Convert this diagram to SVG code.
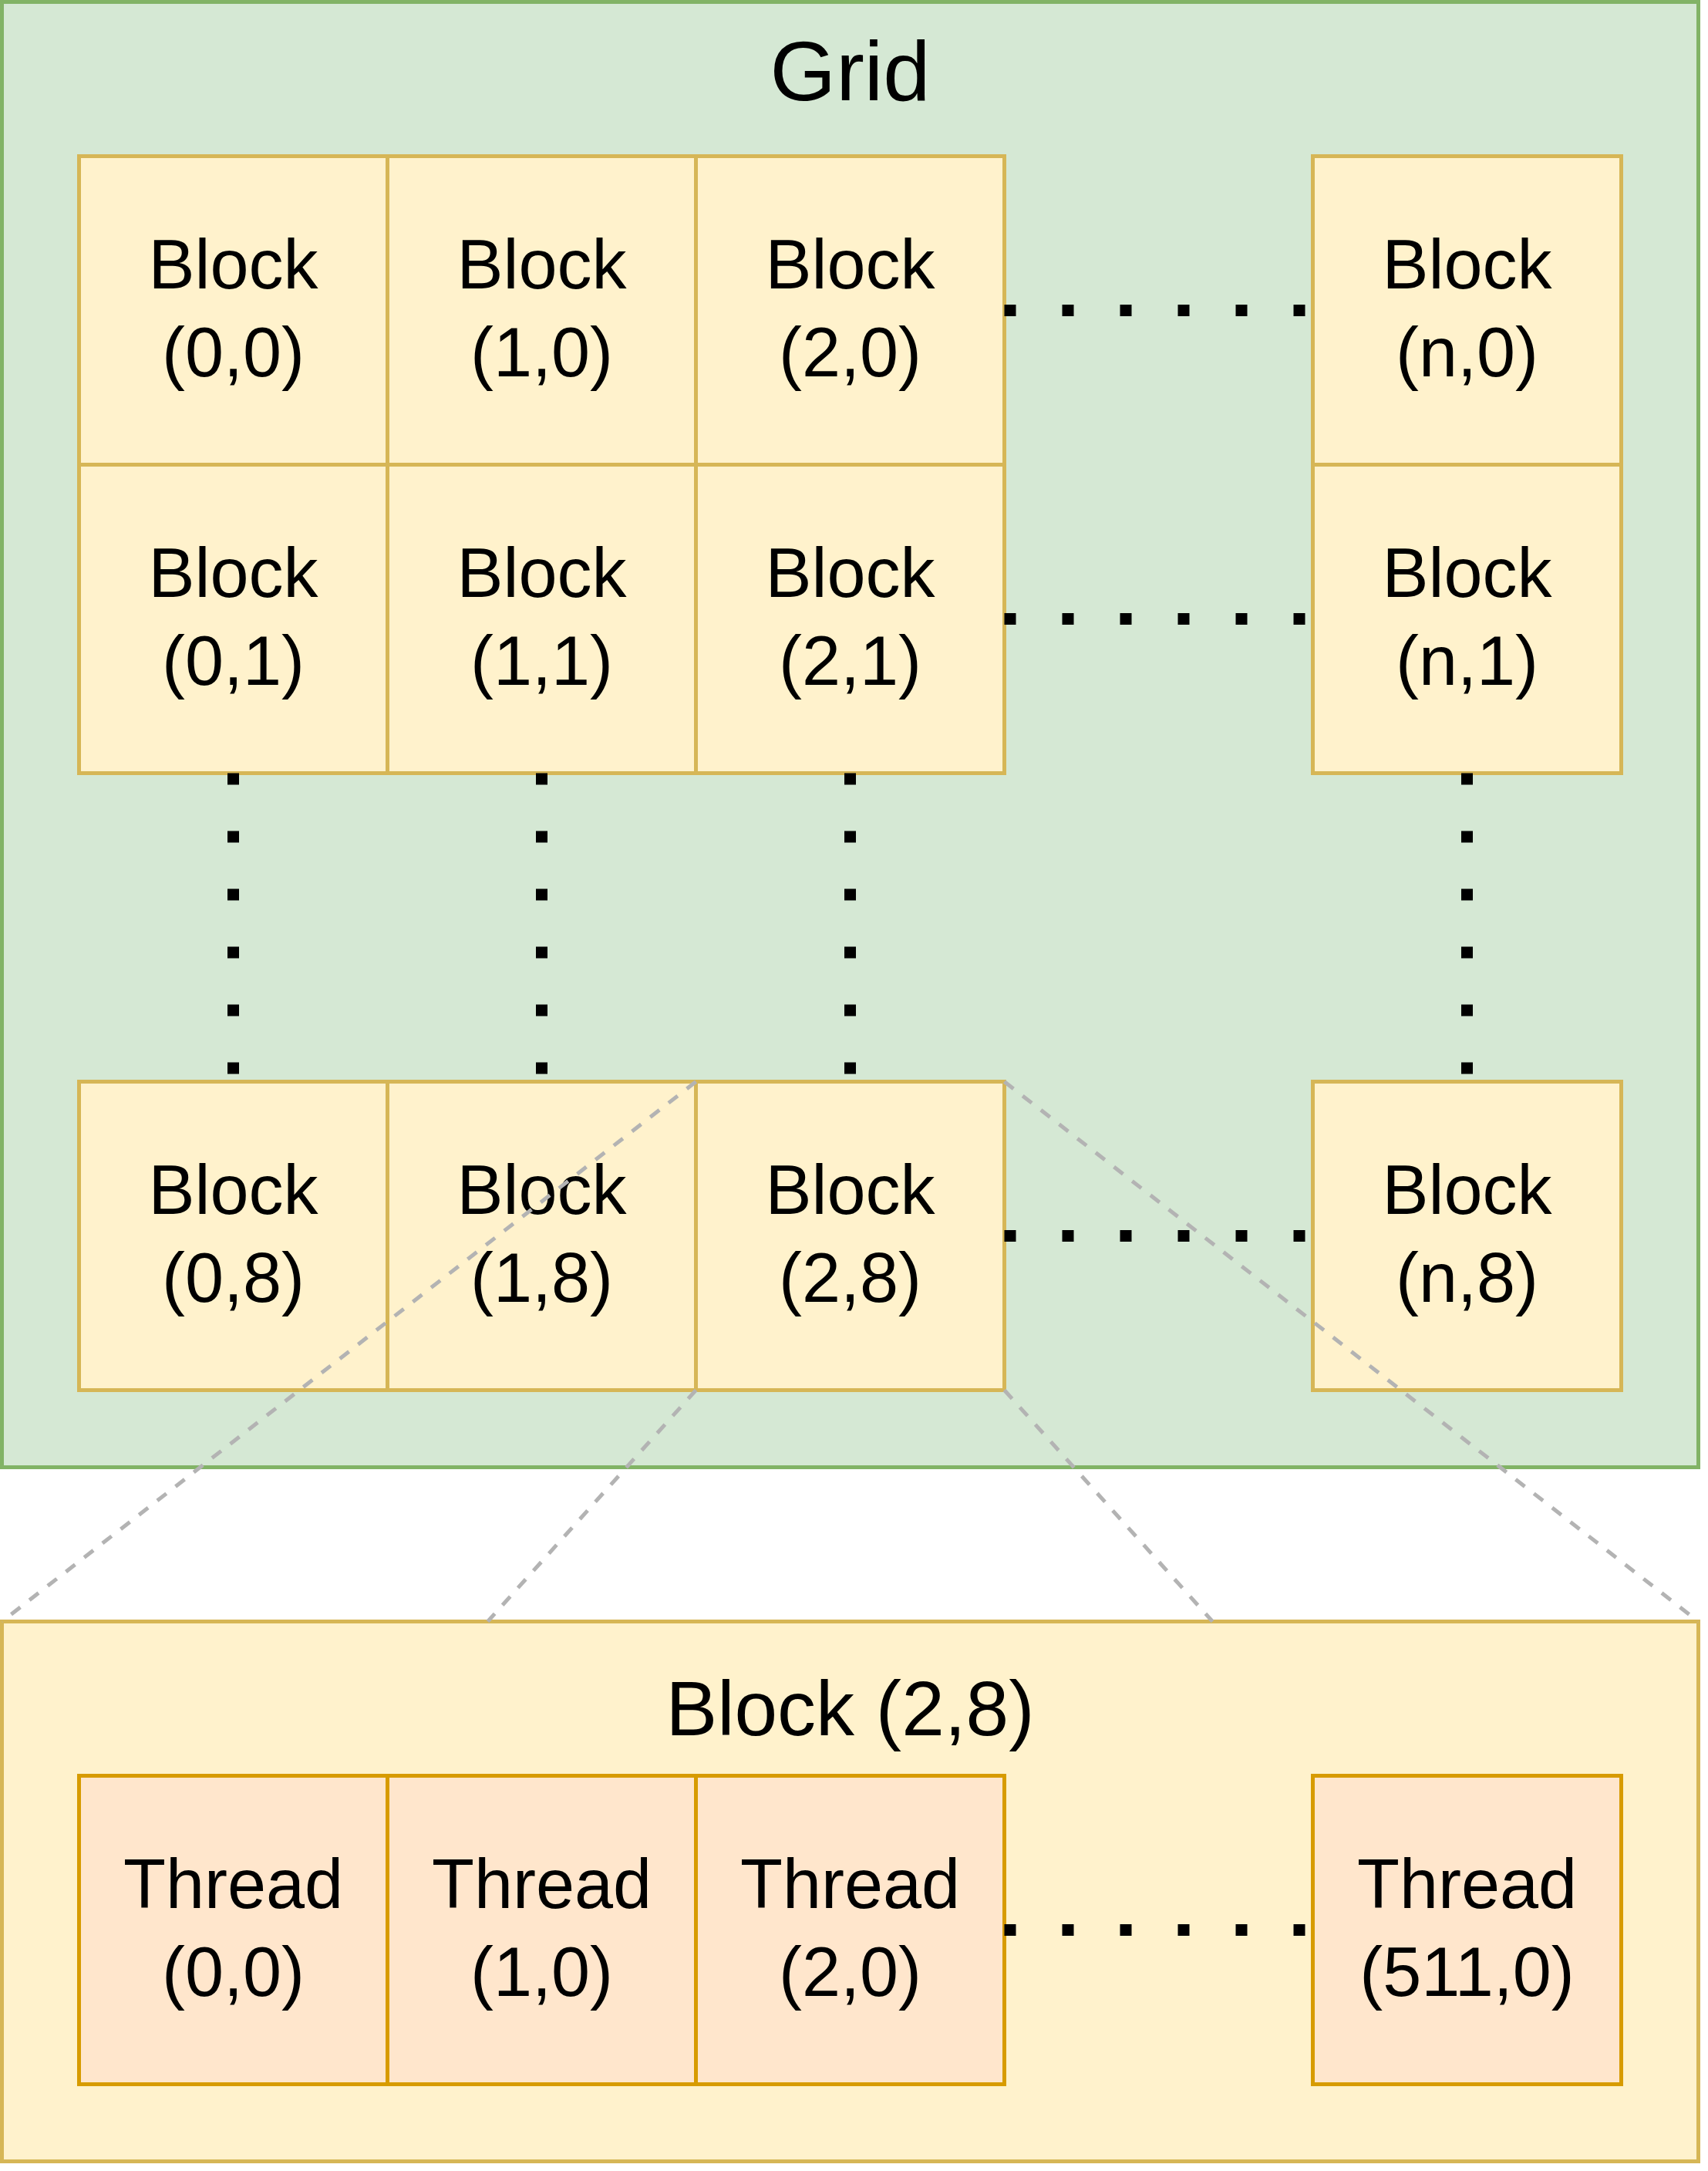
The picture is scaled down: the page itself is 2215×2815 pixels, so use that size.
<svg xmlns="http://www.w3.org/2000/svg" width="2215" height="2815" viewBox="0 0 2215 2815">
<style>
text{font-family:"Liberation Sans",Arial,Helvetica,sans-serif;fill:#000;text-anchor:middle}
.t{font-size:90px}
.blk{fill:#fff2cc;stroke:#d6b656;stroke-width:5}
.thr{fill:#ffe6cc;stroke:#d79b00;stroke-width:5}
.dot{stroke:#000;stroke-width:15;stroke-dasharray:15 60;fill:none}
.gl{stroke:#b3b3b3;stroke-width:5;stroke-dasharray:15 15;fill:none}
</style>
<rect width="2215" height="2815" fill="#ffffff"/>
<g id="grid">
<rect x="2.5" y="2.5" width="2200" height="1900" fill="#d5e8d4" stroke="#82b366" stroke-width="5"/>
<text x="1102.5" y="130" style="font-size:110px">Grid</text>
</g>
<g id="block-0-0"><rect class="blk" x="102.5" y="202.5" width="400" height="400"/><text class="t" x="302.5" y="374">Block</text><text class="t" x="302.5" y="488">(0,0)</text></g>
<g id="block-1-0"><rect class="blk" x="502.5" y="202.5" width="400" height="400"/><text class="t" x="702.5" y="374">Block</text><text class="t" x="702.5" y="488">(1,0)</text></g>
<g id="block-2-0"><rect class="blk" x="902.5" y="202.5" width="400" height="400"/><text class="t" x="1102.5" y="374">Block</text><text class="t" x="1102.5" y="488">(2,0)</text></g>
<g id="block-n-0"><rect class="blk" x="1702.5" y="202.5" width="400" height="400"/><text class="t" x="1902.5" y="374">Block</text><text class="t" x="1902.5" y="488">(n,0)</text></g>
<g id="block-0-1"><rect class="blk" x="102.5" y="602.5" width="400" height="400"/><text class="t" x="302.5" y="774">Block</text><text class="t" x="302.5" y="888">(0,1)</text></g>
<g id="block-1-1"><rect class="blk" x="502.5" y="602.5" width="400" height="400"/><text class="t" x="702.5" y="774">Block</text><text class="t" x="702.5" y="888">(1,1)</text></g>
<g id="block-2-1"><rect class="blk" x="902.5" y="602.5" width="400" height="400"/><text class="t" x="1102.5" y="774">Block</text><text class="t" x="1102.5" y="888">(2,1)</text></g>
<g id="block-n-1"><rect class="blk" x="1702.5" y="602.5" width="400" height="400"/><text class="t" x="1902.5" y="774">Block</text><text class="t" x="1902.5" y="888">(n,1)</text></g>
<g id="block-0-8"><rect class="blk" x="102.5" y="1402.5" width="400" height="400"/><text class="t" x="302.5" y="1574">Block</text><text class="t" x="302.5" y="1688">(0,8)</text></g>
<g id="block-1-8"><rect class="blk" x="502.5" y="1402.5" width="400" height="400"/><text class="t" x="702.5" y="1574">Block</text><text class="t" x="702.5" y="1688">(1,8)</text></g>
<g id="block-2-8"><rect class="blk" x="902.5" y="1402.5" width="400" height="400"/><text class="t" x="1102.5" y="1574">Block</text><text class="t" x="1102.5" y="1688">(2,8)</text></g>
<g id="block-n-8"><rect class="blk" x="1702.5" y="1402.5" width="400" height="400"/><text class="t" x="1902.5" y="1574">Block</text><text class="t" x="1902.5" y="1688">(n,8)</text></g>
<g id="block-detail">
<rect class="blk" x="2.5" y="2102.5" width="2200" height="700"/>
<text x="1102.5" y="2250" style="font-size:100px">Block (2,8)</text>
</g>
<g id="thread-0-0"><rect class="thr" x="102.5" y="2302.5" width="400" height="400"/><text class="t" x="302.5" y="2474">Thread</text><text class="t" x="302.5" y="2588">(0,0)</text></g>
<g id="thread-1-0"><rect class="thr" x="502.5" y="2302.5" width="400" height="400"/><text class="t" x="702.5" y="2474">Thread</text><text class="t" x="702.5" y="2588">(1,0)</text></g>
<g id="thread-2-0"><rect class="thr" x="902.5" y="2302.5" width="400" height="400"/><text class="t" x="1102.5" y="2474">Thread</text><text class="t" x="1102.5" y="2588">(2,0)</text></g>
<g id="thread-511-0"><rect class="thr" x="1702.5" y="2302.5" width="400" height="400"/><text class="t" x="1902.5" y="2474">Thread</text><text class="t" x="1902.5" y="2588">(511,0)</text></g>
<g id="connectors">
<line class="dot" x1="1302.5" y1="402.5" x2="1702.5" y2="402.5"/>
<line class="dot" x1="1302.5" y1="802.5" x2="1702.5" y2="802.5"/>
<line class="dot" x1="1302.5" y1="1602.5" x2="1702.5" y2="1602.5"/>
<line class="dot" x1="1302.5" y1="2502.5" x2="1702.5" y2="2502.5"/>
<line class="dot" x1="302.5" y1="1002.5" x2="302.5" y2="1402.5"/>
<line class="dot" x1="702.5" y1="1002.5" x2="702.5" y2="1402.5"/>
<line class="dot" x1="1102.5" y1="1002.5" x2="1102.5" y2="1402.5"/>
<line class="dot" x1="1902.5" y1="1002.5" x2="1902.5" y2="1402.5"/>
<line class="gl" x1="902.5" y1="1402.5" x2="2.5" y2="2102.5"/>
<line class="gl" x1="902.5" y1="1802.5" x2="632.5" y2="2102.5"/>
<line class="gl" x1="1302.5" y1="1802.5" x2="1572.5" y2="2102.5"/>
<line class="gl" x1="1302.5" y1="1402.5" x2="2202.5" y2="2102.5"/>
</g>
</svg>
